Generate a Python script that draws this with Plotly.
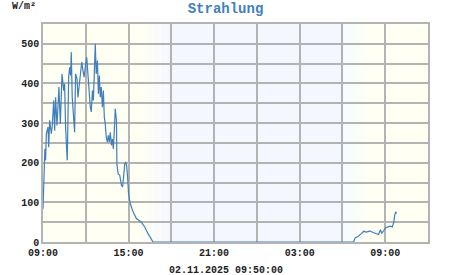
import plotly.graph_objects as go
import pandas as pd

# ---- data ----
day1_date = "2025-11-01"
day2_date = "2025-11-02"
day1_times = ["09:00","09:04","09:08","09:11","09:14","09:21","09:24","09:28","09:35","09:39",
              "09:45","09:49","09:53","09:59","10:03","10:07","10:13","10:20","10:27","10:31",
              "10:35","10:42","10:48","10:52","10:56","10:59","11:03","11:09","11:13","11:17",
              "11:23","11:27","11:31","11:37","11:43","11:48","11:53","11:58","12:04","12:09",
              "12:14","12:19","12:23","12:28","12:32","12:36","12:40","12:44","12:49","12:53",
              "12:57","13:01","13:05","13:10","13:14","13:18","13:22","13:26","13:31","13:35",
              "13:39","13:43","13:48","13:52","13:56","14:00","14:04","14:09","14:11","14:16",
              "14:23","14:30","14:35","14:39","14:44","14:48","14:52","14:56","15:00","15:07",
              "15:19","15:33","15:54","16:08","16:22","16:43"]
day1_values = [84,197,235,206,273,290,239,307,273,294,
               357,281,365,294,370,391,298,424,382,399,
               290,206,416,441,420,479,365,290,277,424,
               412,365,391,424,454,433,416,441,466,424,
               365,340,328,382,357,449,500,424,458,374,
               420,365,391,340,382,315,298,265,252,269,
               252,277,244,260,235,281,336,307,197,172,
               168,143,139,164,197,202,193,164,122,97,
               76,59,50,38,21,0]
day2_times = ["06:47","06:54","07:05","07:20","07:29","07:41","07:55","08:09","08:23","08:32",
              "08:40","08:45","08:54","09:02","09:12","09:22","09:30","09:36","09:40","09:44","09:48"]
day2_values = [0,11,14,21,27,25,28,24,21,19,
               31,22,29,36,38,40,38,50,67,76,72]

title_text = "Strahlung"
unit_text = "W/m²"
stamp_text = "02.11.2025 09:50:00"
x_start = "2025-11-01 09:00"
x_end = "2025-11-02 12:00"
y_max = 550

# daylight phases: (start, end, colour_from, colour_to)
phases = [
    ("2025-11-01 09:00", "2025-11-01 15:50", "#fffff3", "#fffff3"),
    ("2025-11-01 15:50", "2025-11-01 17:50", "#fffff3", "#f5f7ff"),
    ("2025-11-01 17:50", "2025-11-02 06:00", "#f5f7ff", "#f5f7ff"),
    ("2025-11-02 06:00", "2025-11-02 07:45", "#f2fbff", "#fffff3"),
    ("2025-11-02 07:45", "2025-11-02 12:00", "#fffff3", "#fffff3"),
]

times = pd.to_datetime([f"{day1_date} {t}" for t in day1_times] +
                       [f"{day2_date} {t}" for t in day2_times])
values = day1_values + day2_values

def hex2rgb(h):
    h = h.lstrip("#")
    return [int(h[i:i+2], 16) for i in (0, 2, 4)]

shapes = []
for s, e, c0, c1 in phases:
    t0, t1 = pd.Timestamp(s), pd.Timestamp(e)
    n = 1 if c0 == c1 else 24
    a, b = hex2rgb(c0), hex2rgb(c1)
    for i in range(n):
        f = (i + 0.5) / n
        col = "rgb({},{},{})".format(*[round(a[k] + (b[k] - a[k]) * f) for k in range(3)])
        shapes.append(dict(type="rect", xref="x", yref="paper",
                           x0=t0 + (t1 - t0) * i / n, x1=t0 + (t1 - t0) * (i + 1) / n,
                           y0=0, y1=1, fillcolor=col, line=dict(width=0), layer="below"))

fig = go.Figure()
fig.add_trace(go.Scatter(x=times, y=values, mode="lines",
                         line=dict(color="#3f7fbd", width=1.2), hoverinfo="skip"))

grid = "#b3b3b3"
tickfont = dict(family="Liberation Mono", size=10, color="#222", weight="bold")
fig.update_layout(
    width=451, height=275,
    margin=dict(l=43, r=23, t=24, b=33),
    paper_bgcolor="white", plot_bgcolor="white",
    showlegend=False,
    shapes=shapes,
    title=dict(text=title_text, x=0.5, xanchor="center", y=1 - 8 / 275, yanchor="middle",
               xref="container", yref="container",
               font=dict(family="Liberation Mono", size=14, color="#3f7fbf", weight="bold")),
    xaxis=dict(type="date", range=[x_start, x_end], dtick=6 * 3600000,
               tick0=x_start, tickformat="%H:%M", tickfont=tickfont,
               showgrid=True, gridcolor=grid, gridwidth=1.5,
               minor=dict(dtick=3 * 3600000, showgrid=True, gridcolor=grid, gridwidth=1.5),
               showline=True, linecolor=grid, linewidth=1.5, mirror=True, zeroline=False,
               ticks="", fixedrange=True),
    yaxis=dict(range=[0, y_max], dtick=100, tick0=0, tickfont=tickfont,
               showgrid=True, gridcolor=grid, gridwidth=1.5,
               minor=dict(dtick=50, showgrid=True, gridcolor=grid, gridwidth=1.5),
               showline=True, linecolor=grid, linewidth=1.5, mirror=True, zeroline=False,
               ticks="", fixedrange=True),
    annotations=[
        dict(text=unit_text, xref="paper", yref="paper", x=(10 - 43) / 385, y=(242 - 6) / 218,
             xanchor="left", yanchor="middle", showarrow=False,
             font=dict(family="Liberation Mono", size=10, color="#222", weight="bold")),
        dict(text=stamp_text, xref="paper", yref="paper", x=(225.5 - 43) / 385, y=(242 - 270.5) / 218,
             xanchor="center", yanchor="middle", showarrow=False,
             font=dict(family="Liberation Mono", size=10, color="#222", weight="bold")),
    ],
)

fig.write_html("out.html")
